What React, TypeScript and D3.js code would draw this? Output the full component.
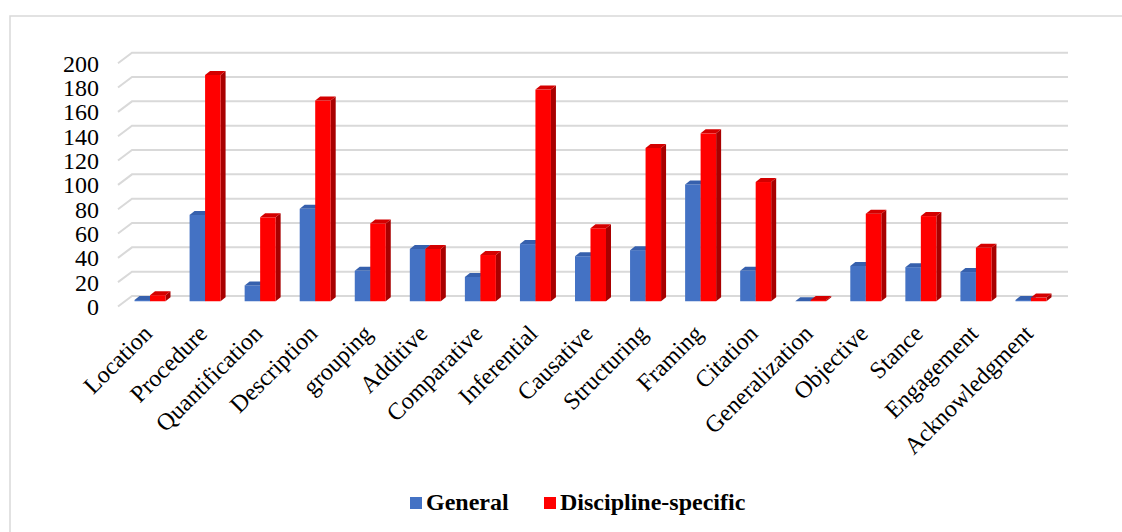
import React, { useEffect, useRef } from "react";
import * as d3 from "d3";

const categories = [
	"Location",
	"Procedure",
	"Quantification",
	"Description",
	"grouping",
	"Additive",
	"Comparative",
	"Inferential",
	"Causative",
	"Structuring",
	"Framing",
	"Citation",
	"Generalization",
	"Objective",
	"Stance",
	"Engagement",
	"Acknowledgment",
];
const general = [1, 71, 13, 76, 25, 43, 20, 47, 37, 42, 96, 25, 0, 29, 28, 24, 1];
const disciplineSpecific = [5, 186, 69, 165, 64, 43, 38, 174, 60, 126, 138, 98, 1, 72, 70, 44, 3];
const yTicks = [0, 20, 40, 60, 80, 100, 120, 140, 160, 180, 200];
const seriesNames = ["General", "Discipline-specific"];

const W = 1122;
const H = 532;
const FONT = "'Liberation Serif', 'Times New Roman', serif";

export default function App() {
	const svgRef = useRef(null);

	useEffect(() => {
		const svg = d3.select(svgRef.current);
		svg.selectAll("*").remove();

		// back wall of the 3d plot
		const wallLeft = 132;
		const wallRight = 1068;
		const floorDx = -14; // front edge of the floor, relative to the wall
		const floorDy = 10.5;

		const y = d3.scaleLinear().domain([0, 200]).range([296, 52.7]);
		const x = d3.scaleBand().domain(categories).range([wallLeft, wallRight]);

		// chart border
		svg
			.append("rect")
			.attr("x", 10)
			.attr("y", 16)
			.attr("width", W + 20)
			.attr("height", H + 20)
			.attr("fill", "none")
			.attr("stroke", "#d9d9d9")
			.attr("stroke-width", 1.5);

		// gridlines: a short diagonal on the floor side then along the wall
		svg
			.append("g")
			.attr("fill", "none")
			.attr("stroke", "#d9d9d9")
			.attr("stroke-width", 2)
			.selectAll("path")
			.data(yTicks)
			.join("path")
			.attr("d", (t) => `M${wallLeft + floorDx},${y(t) + floorDy}L${wallLeft},${y(t)}H${wallRight}`);

		// y tick labels
		svg
			.append("g")
			.selectAll("text")
			.data(yTicks)
			.join("text")
			.attr("x", 99)
			.attr("y", (t) => y(t) + floorDy)
			.attr("dy", "0.35em")
			.attr("text-anchor", "end")
			.attr("font-family", FONT)
			.attr("font-size", 24)
			.attr("fill", "#000")
			.text((t) => t);

		// bars sit midway in the floor depth
		const midDx = floorDx / 2;
		const midDy = floorDy / 2;
		const barW = 15.5;
		const depthX = 5;
		const depthY = -4;

		const colors = [
			{ front: "#4472c4", side: "#2f528f", top: "#3660ad" },
			{ front: "#ff0000", side: "#a80000", top: "#d40000" },
		];

		const series = [general, disciplineSpecific];
		const bars = [];
		categories.forEach((c, i) => {
			const cx = x(c) + x.bandwidth() / 2 + midDx - 2.5;
			series.forEach((vals, s) => {
				bars.push({ x0: cx - barW + s * barW, v: vals[i], s });
			});
		});

		const gBars = svg.append("g");
		bars.forEach((b) => {
			const base = y(0) + midDy;
			const top = y(b.v) + midDy;
			const col = colors[b.s];
			const x0 = b.x0;
			const x1 = b.x0 + barW;
			// side face
			gBars
				.append("path")
				.attr("d", `M${x1},${base}L${x1 + depthX},${base + depthY}L${x1 + depthX},${top + depthY}L${x1},${top}Z`)
				.attr("fill", col.side);
			// front face
			gBars
				.append("rect")
				.attr("x", x0)
				.attr("y", top)
				.attr("width", barW)
				.attr("height", Math.max(0, base - top))
				.attr("fill", col.front);
			// top face
			gBars
				.append("path")
				.attr("d", `M${x0},${top}L${x0 + depthX},${top + depthY}L${x1 + depthX},${top + depthY}L${x1},${top}Z`)
				.attr("fill", col.top);
		});

		// category labels
		svg
			.append("g")
			.selectAll("text")
			.data(categories)
			.join("text")
			.attr("transform", (c) => `translate(${x(c) + x.bandwidth() / 2 + midDx + 1},${335}) rotate(-45)`)
			.attr("text-anchor", "end")
			.attr("font-family", FONT)
			.attr("font-size", 24)
			.attr("fill", "#000")
			.text((c) => c);

		// legend
		const legend = svg.append("g").attr("font-family", FONT).attr("font-size", 24).attr("font-weight", "bold");
		const legendX = [410, 544];
		seriesNames.forEach((name, s) => {
			legend
				.append("rect")
				.attr("x", legendX[s])
				.attr("y", 497)
				.attr("width", 12)
				.attr("height", 12)
				.attr("fill", colors[s].front);
			legend
				.append("text")
				.attr("x", legendX[s] + 16)
				.attr("y", 510)
				.attr("fill", "#000")
				.text(name);
		});
	}, []);

	return (
		<svg
			ref={svgRef}
			width={W}
			height={H}
			style={{ position: "absolute", left: 0, top: 0, background: "#fff" }}
		/>
	);
}
